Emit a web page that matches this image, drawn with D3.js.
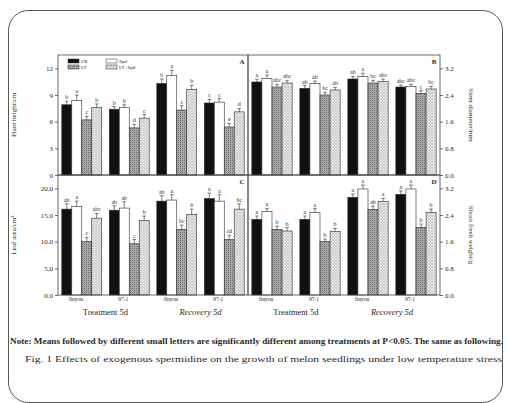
<!DOCTYPE html>
<html>
<head>
<meta charset="utf-8">
<script src="https://cdn.jsdelivr.net/npm/d3@7"></script>
<style>
  html, body { margin: 0; padding: 0; background: #fff; }
  svg { display: block; font-family: "Liberation Serif", "DejaVu Serif", serif; }
</style>
</head>
<body>
<svg id="fig" width="507" height="403"></svg>
<script>
// Treatment series (bar order inside each group)
const series = ["CK", "Spd", "LT", "LT+Spd"];
// Variety labels under each group, and the stage labels under pairs of groups
const varieties = ["Jinyou", "97-1", "Jinyou", "97-1"];
const stages = ["Treatment 5d", "Recovery 5d"];

// A: plant height (cm), per group [CK, Spd, LT, LT+Spd]
const heightVals = [[7.9, 8.4, 6.2, 7.6], [7.4, 7.6, 5.3, 6.4], [10.3, 11.2, 7.3, 9.6], [8.1, 8.2, 5.4, 7.1]];
const heightErr = [[0.4, 0.6, 0.4, 0.4], [0.3, 0.3, 0.4, 0.4], [0.5, 0.6, 0.5, 0.5], [0.4, 0.4, 0.4, 0.4]];
const heightSig = [["b", "a", "c", "b"], ["b", "b", "d", "c"], ["b", "a", "c", "b"], ["c", "c", "e", "d"]];

// B: stem diameter (mm)
const stemVals = [[2.79, 2.9, 2.64, 2.76], [2.6, 2.74, 2.4, 2.55], [2.88, 2.95, 2.76, 2.8], [2.64, 2.66, 2.45, 2.58]];
const stemErr = [[0.08, 0.1, 0.08, 0.08], [0.08, 0.08, 0.08, 0.08], [0.08, 0.1, 0.08, 0.08], [0.06, 0.06, 0.08, 0.08]];
const stemSig = [["a", "a", "abc", "abc"], ["ab", "ab", "bc", "ab"], ["ab", "a", "bc", "abc"], ["abc", "abc", "c", "bc"]];

// C: leaf area (cm²)
const leafVals = [[16.1, 16.6, 10.0, 14.4], [15.9, 16.3, 9.6, 14.0], [17.6, 17.8, 12.3, 15.1], [18.1, 17.6, 10.4, 16.1]];
const leafErr = [[1.0, 1.0, 0.8, 0.9], [0.8, 1.2, 0.8, 0.8], [1.0, 1.0, 0.8, 1.0], [1.0, 1.2, 0.8, 1.0]];
const leafSig = [["ab", "a", "c", "abc"], ["ab", "ab", "c", "b"], ["ab", "a", "bc", "b"], ["a", "a", "cd", "bc"]];

// D: shoot fresh weight (g)
const weightVals = [[2.27, 2.5, 1.97, 1.92], [2.27, 2.47, 1.6, 1.9], [2.93, 3.18, 2.57, 2.8], [3.02, 3.18, 2.03, 2.48]];
const weightErr = [[0.1, 0.1, 0.1, 0.1], [0.1, 0.12, 0.08, 0.1], [0.1, 0.12, 0.1, 0.1], [0.1, 0.12, 0.1, 0.1]];
const weightSig = [["a", "a", "b", "b"], ["a", "a", "b", "b"], ["a", "a", "ab", "a"], ["a", "a", "b", "b"]];

// Axis ticks
const heightTicks = [0, 3, 6, 9, 12];
const leafTicks = [0, 5, 10, 15, 20];
const rightTicks = [0, 0.8, 1.6, 2.4, 3.2];

const svg = d3.select("#fig");
const ink = "#2a2a2a";

// Fill patterns for the LT and LT+Spd bars
const defs = svg.append("defs");
const dots = defs.append("pattern").attr("id", "pDots").attr("patternUnits", "userSpaceOnUse")
  .attr("width", 2).attr("height", 2);
dots.append("rect").attr("width", 2).attr("height", 2).attr("fill", "#a8a8a8");
dots.append("rect").attr("width", 1).attr("height", 1).attr("fill", "#707070");
const cross = defs.append("pattern").attr("id", "pCross").attr("patternUnits", "userSpaceOnUse")
  .attr("width", 3).attr("height", 3);
cross.append("rect").attr("width", 3).attr("height", 3).attr("fill", "#eeeeee");
cross.append("path").attr("d", "M0,0L3,3M3,0L0,3").attr("stroke", "#a8a8a8").attr("stroke-width", 0.5);
const fills = ["#111", "#fff", "url(#pDots)", "url(#pCross)"];

// Outer rounded border
svg.append("rect").attr("x", 8.5).attr("y", 10.5).attr("width", 494).attr("height", 392)
  .attr("rx", 20).attr("fill", "none").attr("stroke", "#555").attr("stroke-width", 1);

const L = 58, M = 248, R = 440, T = 55, MID = 175, B = 295;

const panels = [
  { x0: L, x1: M, y0: T, y1: MID, max: 13.5, vals: heightVals, err: heightErr, sig: heightSig,
    ticks: heightTicks, fmt: d3.format("d"), side: "left", title: "Plant height/cm", tag: "A" },
  { x0: M, x1: R, y0: T, y1: MID, max: 3.6, vals: stemVals, err: stemErr, sig: stemSig,
    ticks: rightTicks, fmt: d3.format(".1f"), side: "right", title: "Stem diameter/mm", tag: "B" },
  { x0: L, x1: M, y0: MID, y1: B, max: 22.5, vals: leafVals, err: leafErr, sig: leafSig,
    ticks: leafTicks, fmt: d3.format(".1f"), side: "left", title: "Leaf area/cm²", tag: "C" },
  { x0: M, x1: R, y0: MID, y1: B, max: 3.6, vals: weightVals, err: weightErr, sig: weightSig,
    ticks: rightTicks, fmt: d3.format(".1f"), side: "right", title: "Shoot fresh weight/g", tag: "D" }
];

panels.forEach(p => {
  const x0 = d3.scaleBand().domain(d3.range(4)).range([p.x0, p.x1]).paddingInner(0.16).paddingOuter(0.08);
  const x1 = d3.scaleBand().domain(d3.range(4)).range([0, x0.bandwidth()]);
  const y = d3.scaleLinear().domain([0, p.max]).range([p.y1, p.y0]);
  const g = svg.append("g");

  p.vals.forEach((grp, gi) => {
    grp.forEach((v, si) => {
      const bx = x0(gi) + x1(si);
      const bw = x1.bandwidth();
      const e = p.err[gi][si];
      g.append("rect").attr("x", bx).attr("y", y(v)).attr("width", bw).attr("height", y(0) - y(v))
        .attr("fill", fills[si]).attr("stroke", ink).attr("stroke-width", 0.6);
      const cx = bx + bw / 2;
      g.append("path")
        .attr("d", `M${cx},${y(v)}V${y(v + e)}M${cx - 1.8},${y(v + e)}H${cx + 1.8}`)
        .attr("stroke", ink).attr("stroke-width", 0.6).attr("fill", "none");
      g.append("text").attr("x", cx).attr("y", y(v + e) - 2).attr("text-anchor", "middle")
        .attr("font-size", 6).attr("fill", ink).text(p.sig[gi][si]);
    });
  });

  // Frame around the panel
  g.append("rect").attr("x", p.x0).attr("y", p.y0).attr("width", p.x1 - p.x0).attr("height", p.y1 - p.y0)
    .attr("fill", "none").attr("stroke", "#444").attr("stroke-width", 0.8);

  // Value axis
  const axis = (p.side === "left" ? d3.axisLeft(y) : d3.axisRight(y))
    .tickValues(p.ticks).tickFormat(p.fmt).tickSize(3).tickPadding(2);
  const ax = svg.append("g").attr("transform", `translate(${p.side === "left" ? L : R},0)`).call(axis);
  ax.select(".domain").remove();
  ax.selectAll("line").attr("stroke", "#444").attr("stroke-width", 0.8);
  ax.selectAll("text").attr("font-size", 7).attr("font-family", "Liberation Serif").attr("fill", ink);

  // Axis title
  const cy = (p.y0 + p.y1) / 2;
  if (p.side === "left") {
    svg.append("text").attr("transform", `translate(16,${cy}) rotate(-90)`).attr("text-anchor", "middle")
      .attr("font-size", 7).attr("fill", ink).text(p.title);
  } else {
    svg.append("text").attr("transform", `translate(469,${cy}) rotate(90)`).attr("text-anchor", "middle")
      .attr("font-size", 7).attr("fill", ink).text(p.title);
  }

  // Panel tag
  g.append("text").attr("x", p.x1 - 6).attr("y", p.y0 + 9).attr("text-anchor", "middle")
    .attr("font-size", 7).attr("font-weight", "bold").attr("fill", ink).text(p.tag);

  // Variety and stage labels under the bottom row
  if (p.y1 === B) {
    varieties.forEach((name, gi) => {
      svg.append("text").attr("x", x0(gi) + x0.bandwidth() * 0.35).attr("y", B + 6)
        .attr("text-anchor", "middle").attr("font-size", 5.5).attr("fill", ink).text(name);
    });
    stages.forEach((s, si) => {
      const cx = (x0(si * 2) + x0(si * 2 + 1) + x0.bandwidth()) / 2;
      svg.append("text").attr("x", cx).attr("y", B + 20).attr("text-anchor", "middle")
        .attr("font-size", 8.5).attr("font-style", si === 1 ? "italic" : "normal").attr("fill", ink).text(s);
    });
  }
});

// Legend inside panel A
const legend = svg.append("g");
series.forEach((s, i) => {
  const lx = i % 2 === 0 ? 68 : 106;
  const ly = i < 2 ? 59 : 65;
  legend.append("rect").attr("x", lx).attr("y", ly).attr("width", 11).attr("height", 4)
    .attr("fill", fills[i]).attr("stroke", ink).attr("stroke-width", 0.5);
  legend.append("text").attr("x", lx + 13).attr("y", ly + 4).attr("font-size", 5).attr("fill", ink).text(s);
});

// Caption
svg.append("text").attr("x", 10).attr("y", 344).attr("font-size", 7.5).attr("font-weight", "bold")
  .attr("fill", ink).attr("textLength", 493).attr("lengthAdjust", "spacingAndGlyphs")
  .text("Note: Means followed by different small letters are significantly different among treatments at P<0.05. The same as following.");
svg.append("text").attr("x", 25).attr("y", 362).attr("font-size", 7.5)
  .attr("fill", ink).attr("textLength", 477).attr("lengthAdjust", "spacingAndGlyphs")
  .text("Fig. 1 Effects of exogenous spermidine on the growth of melon seedlings under low temperature stress");
</script>
</body>
</html>
